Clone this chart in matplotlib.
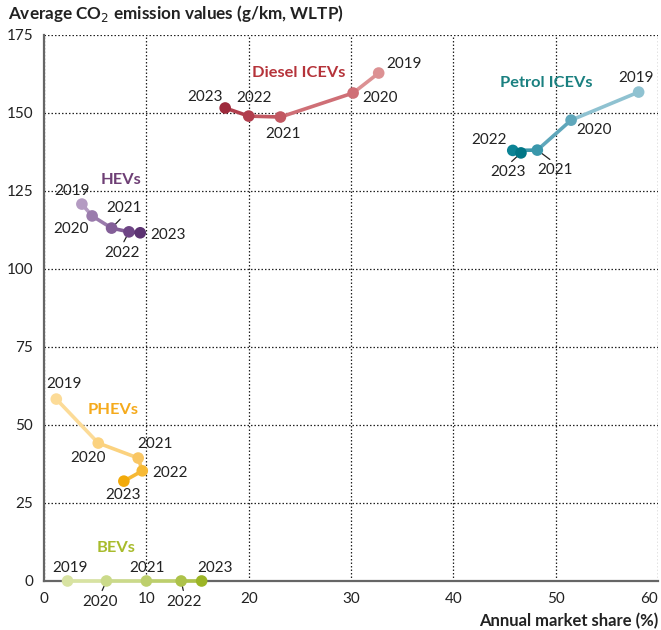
import matplotlib.pyplot as plt

plt.rcParams['font.family'] = ['Lato', 'DejaVu Sans']

years = ['2019', '2020', '2021', '2022', '2023']

# market share (%) and CO2 (g/km) per year, 2019..2023
diesel_x = [32.7, 30.2, 23.1, 20.0, 17.7]
diesel_y = [162.8, 156.4, 148.7, 149.0, 151.6]
petrol_x = [58.1, 51.5, 48.2, 45.8, 46.6]
petrol_y = [156.7, 147.7, 138.1, 138.0, 137.2]
hev_x = [3.7, 4.7, 6.6, 8.3, 9.4]
hev_y = [120.8, 117.0, 113.1, 111.9, 111.6]
phev_x = [1.2, 5.3, 9.2, 9.6, 7.8]
phev_y = [58.3, 44.2, 39.4, 35.3, 32.0]
bev_x = [2.3, 6.1, 10.0, 13.4, 15.4]
bev_y = [0, 0, 0, 0, 0]

series = [
    dict(name='Diesel ICEVs', x=diesel_x, y=diesel_y, title_col='#b5333a',
         cols=['#dc9193', '#cf6f76', '#c25862', '#b13e4d', '#9e2a3c'],
         title_pos=(24.9, 162.8),
         lab=[(35.2, 165.7), (32.8, 154.8), (23.4, 143.3), (20.5, 154.8), (15.7, 155.1)],
         lead=[False, False, False, False, False]),
    dict(name='Petrol ICEVs', x=petrol_x, y=petrol_y, title_col='#1a8080',
         cols=['#8fc2d1', '#5fa7bb', '#3a97ab', '#0b8395', '#007686'],
         title_pos=(49.1, 159.6),
         lab=[(57.8, 161.2), (53.7, 144.6), (49.9, 131.7), (43.5, 141.3), (45.3, 131.0)],
         lead=[False, False, True, False, True]),
    dict(name='HEVs', x=hev_x, y=hev_y, title_col='#6e3f75',
         cols=['#b49bc2', '#9a7bac', '#835f98', '#6e4585', '#5c3372'],
         title_pos=(7.5, 128.5),
         lab=[(2.7, 125.0), (2.6, 112.8), (7.8, 119.4), (7.6, 105.2), (12.1, 110.9)],
         lead=[False, False, True, True, False]),
    dict(name='PHEVs', x=phev_x, y=phev_y, title_col='#f5aa1c',
         cols=['#fcdb97', '#fbd27f', '#f9c663', '#f6b935', '#f2aa0a'],
         title_pos=(6.8, 54.8),
         lab=[(2.0, 63.1), (4.3, 39.4), (10.8, 43.9), (12.3, 34.6), (7.7, 27.6)],
         lead=[False, False, False, False, False]),
    dict(name='BEVs', x=bev_x, y=bev_y, title_col='#a8bb2c',
         cols=['#d8e3a2', '#cbda8a', '#bdcf6c', '#adc24a', '#9cb526'],
         title_pos=(7.0, 10.6),
         lab=[(2.5, 4.2), (5.5, -6.6), (10.1, 4.2), (13.7, -6.6), (16.7, 4.2)],
         lead=[False, True, False, True, False]),
]

fig = plt.figure(figsize=(6.61, 6.30), dpi=100)
ax = fig.add_axes([0.0666, 0.0778, 0.929, 0.8667])
ax.set_xlim(0, 60)
ax.set_ylim(0, 175)
ax.set_xticks(range(0, 61, 10))
ax.set_yticks(range(0, 176, 25))
ax.grid(True, linestyle=(0, (1.2, 1.6)), color='#222222', linewidth=0.9)
ax.set_axisbelow(True)
for s in ['top', 'right']:
    ax.spines[s].set_visible(False)
for s in ['left', 'bottom']:
    ax.spines[s].set_color('#666666')
    ax.spines[s].set_linewidth(1.6)
ax.tick_params(length=0, labelsize=11, colors='#222222', pad=8)
ax.get_xticklabels()[-1].set_horizontalalignment('right')

for s in series:
    x, y, cols = s['x'], s['y'], s['cols']
    for i in range(len(x) - 1):
        ax.plot(x[i:i + 2], y[i:i + 2], color=cols[i], lw=2.6,
                solid_capstyle='round', zorder=3, clip_on=False)
    ax.scatter(x, y, c=cols, s=70, zorder=4, clip_on=False, linewidths=0)
    ax.text(s['title_pos'][0], s['title_pos'][1], s['name'], color=s['title_col'],
            fontsize=11.8, fontweight='bold', ha='center', va='center')
    for i, yr in enumerate(years):
        lx, ly = s['lab'][i]
        if s['lead'][i]:
            rp = (0.5, 1.0) if ly < y[i] else (0.5, 0.0)
            ax.annotate(yr, xy=(x[i], y[i]), xytext=(lx, ly), fontsize=11,
                        ha='center', va='center', color='#222222',
                        arrowprops=dict(arrowstyle='-', lw=0.9, color='#222222',
                                        shrinkA=1, shrinkB=4, relpos=rp),
                        annotation_clip=False)
        else:
            ax.text(lx, ly, yr, fontsize=11, ha='center', va='center', color='#222222')

fig.text(8 / 661, 1 - 14 / 630, 'Average CO$_2$ emission values (g/km, WLTP)',
         fontsize=12.3, fontweight='bold', color='#222222', va='center', ha='left')
fig.text(658 / 661, 1 - 621 / 630, 'Annual market share (%)',
         fontsize=12, fontweight='bold', color='#222222', va='center', ha='right')

fig.savefig('out.png', dpi=100)
